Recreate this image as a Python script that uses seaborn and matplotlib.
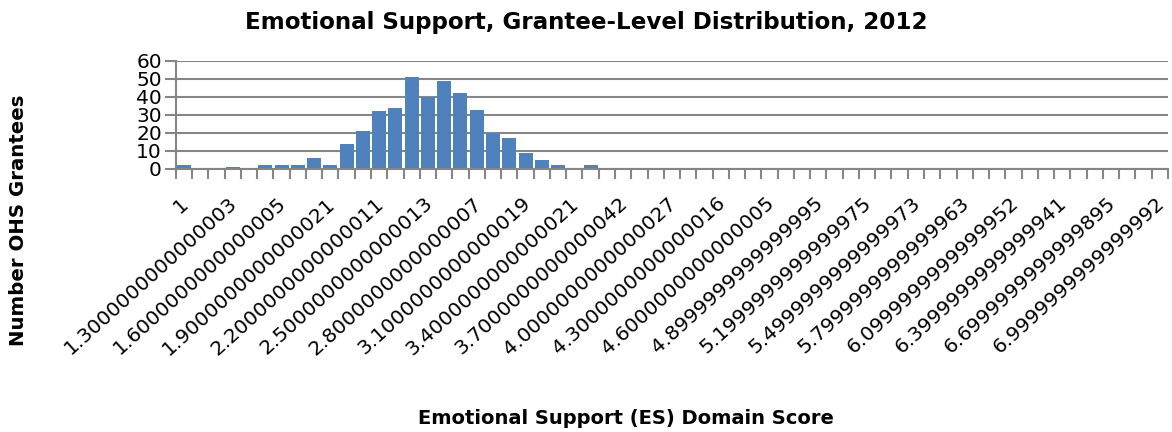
import pandas as pd
import seaborn as sns
import matplotlib.pyplot as plt
from matplotlib.ticker import FixedLocator
from matplotlib.transforms import ScaledTranslation

sns.set_style("white")
plt.rcParams["font.family"] = ["DejaVu Sans"]
plt.rcParams["text.color"] = "black"
plt.rcParams["xtick.color"] = "black"
plt.rcParams["ytick.color"] = "black"

# ES domain score bins, 1.0 .. 7.0 step 0.1
scores = [
    "1.0", "1.1", "1.2", "1.3", "1.4", "1.5", "1.6", "1.7", "1.8", "1.9",
    "2.0", "2.1", "2.2", "2.3", "2.4", "2.5", "2.6", "2.7", "2.8", "2.9",
    "3.0", "3.1", "3.2", "3.3", "3.4", "3.5", "3.6", "3.7", "3.8", "3.9",
    "4.0", "4.1", "4.2", "4.3", "4.4", "4.5", "4.6", "4.7", "4.8", "4.9",
    "5.0", "5.1", "5.2", "5.3", "5.4", "5.5", "5.6", "5.7", "5.8", "5.9",
    "6.0", "6.1", "6.2", "6.3", "6.4", "6.5", "6.6", "6.7", "6.8", "6.9",
    "7.0",
]
grantees = [
    2, 0, 0, 1, 0, 2, 2, 2, 6, 2,
    14, 21, 32, 34, 51, 40, 49, 42, 33, 20,
    17, 9, 5, 2, 0, 2, 0, 0, 0, 0,
    0, 0, 0, 0, 0, 0, 0, 0, 0, 0,
    0, 0, 0, 0, 0, 0, 0, 0, 0, 0,
    0, 0, 0, 0, 0, 0, 0, 0, 0, 0,
    0,
]
# labels as they appear in the source chart (every third bin)
tick_labels = [
    "1", "1.3000000000000003", "1.6000000000000005", "1.9000000000000021",
    "2.2000000000000011", "2.5000000000000013", "2.8000000000000007",
    "3.1000000000000019", "3.4000000000000021", "3.7000000000000042",
    "4.0000000000000027", "4.3000000000000016", "4.6000000000000005",
    "4.8999999999999995", "5.1999999999999975", "5.4999999999999973",
    "5.7999999999999963", "6.0999999999999952", "6.3999999999999941",
    "6.6999999999999895", "6.9999999999999992",
]

df = pd.DataFrame({"Score": scores, "Grantees": grantees})

grid_col = "#868686"

fig = plt.figure(figsize=(11.72, 4.32), dpi=100)
ax = fig.add_axes([0.150, 0.609, 0.8466, 0.250])

sns.barplot(data=df, x="Score", y="Grantees", order=scores,
            color="#4F81BD", saturation=1, width=0.86, linewidth=0,
            edgecolor="none", ax=ax)

ax.set_xlim(-0.5, len(scores) - 0.5)
ax.set_ylim(0, 60)
ax.set_yticks(range(0, 61, 10))
ax.yaxis.grid(True, color=grid_col, linewidth=1.5)
ax.set_axisbelow(True)
for side in ("top", "right"):
    ax.spines[side].set_visible(False)
for side in ("left", "bottom"):
    ax.spines[side].set_color(grid_col)
    ax.spines[side].set_linewidth(1.5)

ax.tick_params(axis="y", length=8, width=1.5, color=grid_col, pad=2,
               labelsize=14.5, left=True, labelcolor="black")
ax.set_xticks(range(0, len(scores), 3))
ax.set_xticklabels(tick_labels, rotation=42, ha="right", va="center",
                   rotation_mode="anchor", fontsize=14.5)
ax.tick_params(axis="x", which="major", length=0, pad=23, labelcolor="black")
ax.xaxis.set_minor_locator(FixedLocator([i - 0.5 for i in range(len(scores) + 1)]))
ax.tick_params(axis="x", which="minor", length=7, width=1.5,
               color=grid_col, bottom=True)
shift = ScaledTranslation(2 / 100, 0, fig.dpi_scale_trans)
for lab in ax.get_xticklabels():
    lab.set_transform(lab.get_transform() + shift)

ax.set_xlabel("")
ax.set_ylabel("")
fig.text(0.5, 0.949, "Emotional Support, Grantee-Level Distribution, 2012",
         ha="center", va="center", fontsize=16.6, fontweight="bold")
fig.text(0.016, 0.491, "Number OHS Grantees", rotation=90,
         ha="center", va="center", fontsize=14.2, fontweight="bold")
fig.text(0.534, 0.032, "Emotional Support (ES) Domain Score",
         ha="center", va="center", fontsize=14, fontweight="bold")

fig.savefig("out.png", dpi=100)
